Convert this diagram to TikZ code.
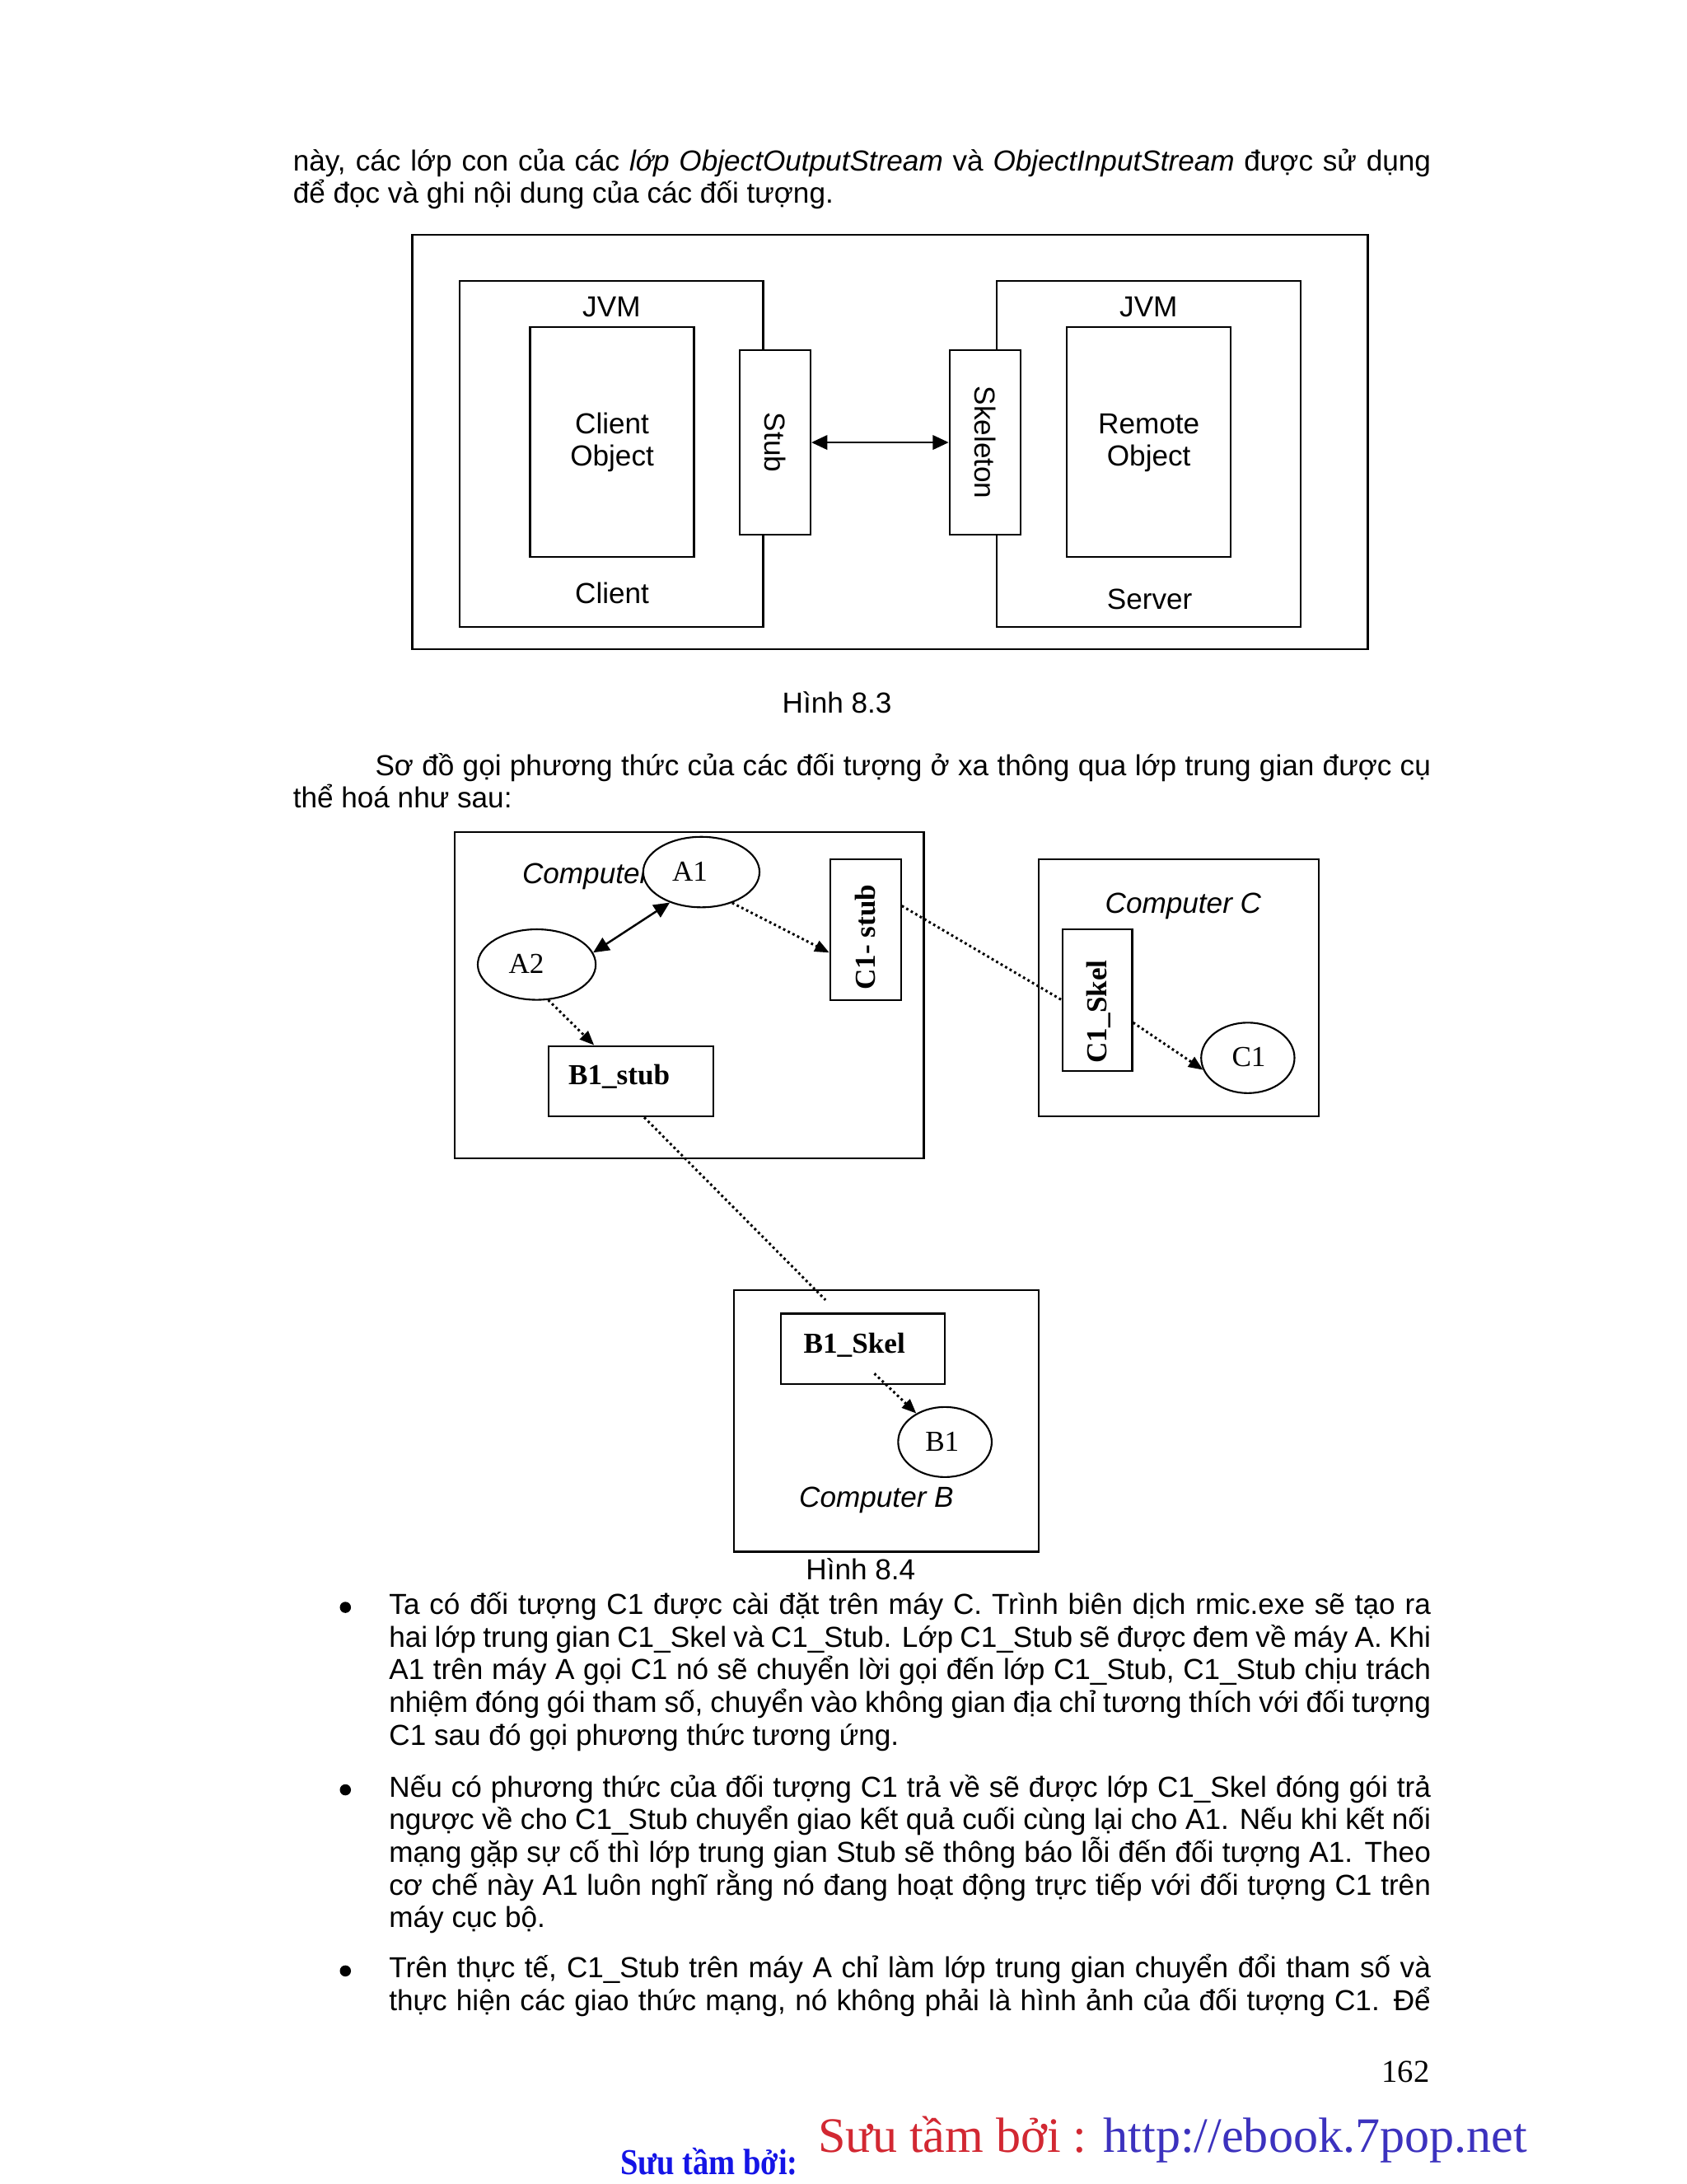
\documentclass[tikz,border=0pt]{standalone}
\usepackage{fontspec}
\setmainfont{Liberation Sans}
\newfontfamily\tms{Liberation Serif}
\newfontfamily\tmsc{Liberation Serif}[FakeStretch=0.87]
\usetikzlibrary{arrows.meta,shapes.geometric,fit}
\newlength\pxu
\setlength\pxu{0.016912cm}
\definecolor{wmred}{RGB}{210,40,50}
\definecolor{wmblue}{RGB}{60,50,190}
\definecolor{sblue}{RGB}{20,20,230}
\begin{document}
\begin{tikzpicture}[x=0.016912cm,y=-0.016912cm,
  box/.style={draw, fill=white, inner sep=0pt, line width=0.6pt},
  oval/.style 2 args={draw, fill=white, ellipse, inner sep=0pt, line width=0.6pt, minimum width=#1\pxu, minimum height=#2\pxu},
  txt/.style={inner sep=0pt, font=\fontsize{10}{11.3}\selectfont},
  itxt/.style={inner sep=0pt, font=\fontsize{10}{11.3}\selectfont\itshape},
  tl/.style={anchor=base west, inner sep=0pt, font=\fontsize{10}{11.3}\selectfont},
  lbl/.style={inner sep=0pt, anchor=base, font=\fontsize{10}{12}\selectfont\tms},
  blbl/.style={inner sep=0pt, font=\fontsize{10}{12}\selectfont\tms\bfseries},
  dotl/.style={line width=0.85pt, dash pattern=on 0.8pt off 1pt},
  tip/.style={-{Triangle[length=5pt,width=4pt]}},
  dtip/.style={{Triangle[length=5.5pt,width=5pt]}-{Triangle[length=5.5pt,width=5pt]}},
  bul/.style={circle, fill=black, inner sep=0pt, minimum size=8\pxu},
  ]
\fill[white] (0,0) rectangle (1211,1568);
\useasboundingbox (0,0) rectangle (1211,1568);

% ---------- paragraph 1
\node[tl] (p1l1) at (210,123) {\makebox[817\pxu][s]{này, các lớp con của các \textit{lớp ObjectOutputStream} và \textit{ObjectInputStream} được sử dụng}};
\node[tl] (p1l2) at (210,146) {để đọc và ghi nội dung của các đối tượng.};

% ---------- Figure 8.3
\node[box, line width=0.7pt, fit={(296,168.5)(982,466)}] (outer) {};
\node[box, fit={(330,201.6)(548,450)}] (jvmL) {};
\node[box, fit={(715.7,201.6)(934,450)}] (jvmR) {};
\node[box, fit={(380.6,235)(498.3,400)}] (cobj) {};
\node[box, fit={(766,235)(883.7,400)}] (robj) {};
\node[box, fit={(531.2,251.3)(582,384)}] (stub) {};
\node[box, fit={(681.8,251.3)(732.6,384)}] (skel) {};
\node[txt, anchor=base] (jvmLt) at (439.1,227.3) {JVM};
\node[txt, anchor=base] (jvmRt) at (824.7,227.3) {JVM};
\node[txt, anchor=base] (co1) at (439.5,311.5) {Client};
\node[txt, anchor=base] (co2) at (439.5,334.5) {Object};
\node[txt, anchor=base] (ro1) at (824.9,311.5) {Remote};
\node[txt, anchor=base] (ro2) at (824.9,334.5) {Object};
\node[txt, anchor=base] (clt) at (439.5,433.2) {Client};
\node[txt, anchor=base] (srv) at (825.5,437.5) {Server};
\node[txt, rotate=-90] (stubt) at (stub.center) {Stub};
\node[txt, rotate=-90] (skelt) at (skel.center) {Skeleton};
\draw[line width=0.6pt, {Triangle[length=5.5pt,width=5pt]}-{Triangle[length=5.5pt,width=5pt]}] (stub.east) -- (skel.west);
\node[txt, anchor=base] (h83) at (601,512) {Hình 8.3};

% ---------- paragraph 2
\node[tl] (p2l1) at (269,557) {\makebox[758\pxu][s]{Sơ đồ gọi phương thức của các đối tượng ở xa thông qua lớp trung gian được cụ}};
\node[tl] (p2l2) at (210,580) {thể hoá như sau:};

% ---------- Figure 8.4
\node[box, fit={(326.7,597.2)(663.3,831.8)}] (compA) {};
\node[itxt, anchor=base west] (compAt) at (374.6,634.5) {Computer A};
\node[oval={83.5}{50.6}] (A1) at (503.6,626.1) {};
\node[oval={84.7}{50.6}] (A2) at (385.4,692.5) {};
\node[lbl] (A1t) at (495.4,632.7) {A1};
\node[lbl] (A2t) at (378,698.7) {A2};
\node[box, fit={(596.1,616.9)(646.9,717.8)}] (c1stub) {};
\node[blbl, rotate=90] (c1stubt) at (621.5,673) {C1- stub};
\node[box, fit={(393.8,751)(512.2,801.6)}] (b1stub) {};
\node[blbl, anchor=base] (b1stubt) at (444.6,778.5) {B1\_stub};

\node[box, fit={(746,616.9)(947,801.6)}] (compC) {};
\node[itxt, anchor=base] (compCt) at (849.6,655.4) {Computer C};
\node[box, fit={(763,667.2)(813,768.7)}] (c1skel) {};
\node[blbl, rotate=90] (c1skelt) at (789,726.3) {C1\_Skel};
\node[oval={67}{50.6}] (C1) at (896,759.5) {};
\node[lbl] (C1t) at (896.7,765.7) {C1};

\node[box, fit={(527.2,926.4)(745.6,1114)}] (compB) {};
\node[box, fit={(560.7,943.1)(678.6,993.8)}] (b1skel) {};
\node[blbl, anchor=base] (b1skelt) at (613.5,971.7) {B1\_Skel};
\node[oval={67.2}{50.3}] (B1) at (678.5,1035.3) {};
\node[lbl] (B1t) at (676.5,1041.7) {B1};
\node[itxt, anchor=base] (compBt) at (629.3,1082.1) {Computer B};
\coordinate (bend) at (592.7,933.3);

% connectors
\draw[line width=0.7pt, dtip] (A2.12) -- (A1.224);
\draw[dotl, tip] (A1.-45) -- ([yshift=-16.6\pxu]c1stub.west);
\draw[dotl, tip] (A2.-72) -- ([xshift=-26.4\pxu]b1stub.north);
\draw[dotl] ([yshift=17\pxu]c1stub.east) -- (c1skel.west);
\draw[dotl, tip] ([yshift=-16.2\pxu]c1skel.east) -- (C1.195);
\draw[dotl] ([xshift=9.6\pxu]b1stub.south) -- (bend);
\draw[dotl, tip] ([xshift=8.2\pxu,yshift=8.3\pxu]b1skel.south) -- (B1.135);

\node[txt, anchor=base] (h84) at (618,1134) {Hình 8.4};

% ---------- bullets
\node[bul] (bd1) at (248,1154) {};
\node[tl] (b1a) at (279,1159) {\makebox[748\pxu][s]{Ta có đối tượng C1 được cài đặt trên máy C. Trình biên dịch rmic.exe sẽ tạo ra}};
\node[tl] (b1b) at (279,1182.5) {\makebox[748\pxu][s]{hai lớp trung gian C1\_Skel và C1\_Stub. Lớp C1\_Stub sẽ được đem về máy A. Khi}};
\node[tl] (b1c) at (279,1206) {\makebox[748\pxu][s]{A1 trên máy A gọi C1 nó sẽ chuyển lời gọi đến lớp C1\_Stub, C1\_Stub chịu trách}};
\node[tl] (b1d) at (279,1229.5) {\makebox[748\pxu][s]{nhiệm đóng gói tham số, chuyển vào không gian địa chỉ tương thích với đối tượng}};
\node[tl] (b1e) at (279,1253) {C1 sau đó gọi phương thức tương ứng.};

\node[bul] (bd2) at (248,1285) {};
\node[tl] (b2a) at (279,1290) {\makebox[748\pxu][s]{Nếu có phương thức của đối tượng C1 trả về sẽ được lớp C1\_Skel đóng gói trả}};
\node[tl] (b2b) at (279,1313.5) {\makebox[748\pxu][s]{ngược về cho C1\_Stub chuyển giao kết quả cuối cùng lại cho A1. Nếu khi kết nối}};
\node[tl] (b2c) at (279,1337) {\makebox[748\pxu][s]{mạng gặp sự cố thì lớp trung gian Stub sẽ thông báo lỗi đến đối tượng A1. Theo}};
\node[tl] (b2d) at (279,1360.5) {\makebox[748\pxu][s]{cơ chế này A1 luôn nghĩ rằng nó đang hoạt động trực tiếp với đối tượng C1 trên}};
\node[tl] (b2e) at (279,1384) {máy cục bộ.};

\node[bul] (bd3) at (248,1415) {};
\node[tl] (b3a) at (279,1420) {\makebox[748\pxu][s]{Trên thực tế, C1\_Stub trên máy A chỉ làm lớp trung gian chuyển đổi tham số và}};
\node[tl] (b3b) at (279,1443.5) {\makebox[748\pxu][s]{thực hiện các giao thức mạng, nó không phải là hình ảnh của đối tượng C1. Để}};

% ---------- footer
\node[inner sep=0pt, anchor=base east, font=\fontsize{11}{13}\selectfont\tms] (pg) at (1027,1495) {162};
\node[inner sep=0pt, anchor=base west, font=\fontsize{17.1}{20}\selectfont\tms] (wm) at (587,1545) {\textcolor{wmred}{Sưu tầm bởi :} \textcolor{wmblue}{http://ebook.7pop.net}};
\node[inner sep=0pt, anchor=base west, font=\fontsize{12.6}{14}\selectfont\tmsc\bfseries, text=sblue] (sv) at (445,1561) {Sưu tầm bởi:};
\end{tikzpicture}
\end{document}
